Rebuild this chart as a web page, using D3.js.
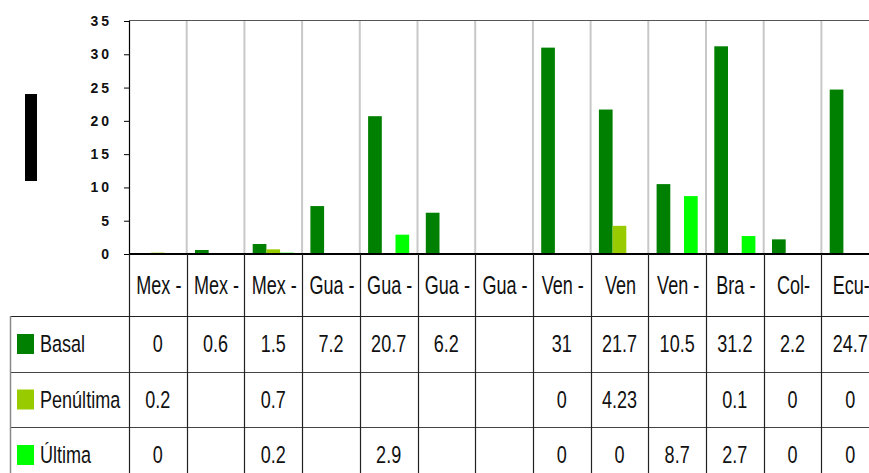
<!DOCTYPE html>
<html>
<head>
<meta charset="utf-8">
<script src="https://cdn.jsdelivr.net/npm/d3@7"></script>
<style>
  body { margin: 0; background: #fff; }
  svg { display: block; }
  .narrow { font-family: 'Liberation Sans', Arial, sans-serif; }
</style>
</head>
<body>
<div id="chart"></div>
<script>
const categories = ['Mex -', 'Mex -', 'Mex -', 'Gua -', 'Gua -', 'Gua -', 'Gua -', 'Ven -', 'Ven', 'Ven -', 'Bra -', 'Col-', 'Ecu-']
const seriesNames = ['Basal', 'Penúltima', 'Última']
const basal = [0, 0.6, 1.5, 7.2, 20.7, 6.2, null, 31, 21.7, 10.5, 31.2, 2.2, 24.7]
const penultima = [0.2, null, 0.7, null, null, null, null, 0, 4.23, null, 0.1, 0, 0]
const ultima = [0, null, 0.2, null, 2.9, null, null, 0, 0, 8.7, 2.7, 0, 0]
const yTicks = [0, 5, 10, 15, 20, 25, 30, 35]
const colors = ['#008000', '#99cc00', '#00ff00']

const W = 869
const H = 473
const plotLeft = 129
const colW = 57.7
const plotTop = 20
const zeroY = 254
const rowY = [254, 316, 372, 427, 483]
// Liberation Sans squeezed to the width of Arial Narrow
const squeeze = 0.82

const series = [basal, penultima, ultima]

const svg = d3.select('#chart').append('svg')
  .attr('width', W)
  .attr('height', H)

const x = d3.scaleBand()
  .domain(d3.range(categories.length))
  .range([plotLeft, plotLeft + colW * categories.length])

const xs = d3.scaleBand()
  .domain(seriesNames)
  .range([8.3, 49.4])

const y = d3.scaleLinear().domain([0, 35]).range([zeroY, 21])

// black block where the axis title would be
svg.append('rect')
  .attr('x', 25).attr('y', 94).attr('width', 12).attr('height', 87)
  .attr('fill', '#000')

// gray column separators in the plot
svg.append('g').selectAll('line')
  .data(d3.range(1, categories.length))
  .join('line')
  .attr('x1', d => x(d)).attr('x2', d => x(d))
  .attr('y1', plotTop).attr('y2', zeroY)
  .attr('stroke', '#c8c8c8').attr('stroke-width', 2)

// top border
svg.append('line')
  .attr('x1', plotLeft).attr('x2', W)
  .attr('y1', plotTop + 0.5).attr('y2', plotTop + 0.5)
  .attr('stroke', '#555').attr('stroke-width', 1.2)

// bars
series.forEach((vals, si) => {
  svg.append('g').selectAll('rect')
    .data(vals.map((v, i) => ({ v, i })).filter(d => d.v))
    .join('rect')
    .attr('x', d => x(d.i) + xs(seriesNames[si]))
    .attr('width', xs.bandwidth())
    .attr('y', d => y(d.v))
    .attr('height', d => zeroY - y(d.v))
    .attr('fill', colors[si])
})

// y axis
const yAxis = svg.append('g')
  .attr('transform', `translate(${plotLeft},0)`)
  .call(d3.axisLeft(y).tickValues(yTicks).tickSize(5).tickPadding(12))
yAxis.select('.domain').attr('stroke', '#000').attr('stroke-width', 1.2)
yAxis.selectAll('.tick line').attr('stroke', '#000')
yAxis.selectAll('.tick text')
  .attr('font-family', 'Liberation Sans, Arial, sans-serif')
  .attr('font-size', 14)
  .attr('font-weight', 'bold')
  .attr('letter-spacing', 3)
  .attr('fill', '#111')

// table
const table = svg.append('g')
const lineColor = '#222'

table.append('line')
  .attr('x1', plotLeft).attr('x2', W)
  .attr('y1', zeroY).attr('y2', zeroY)
  .attr('stroke', '#000').attr('stroke-width', 2)
rowY.slice(1, 4).forEach((ry, i) => {
  table.append('line')
    .attr('x1', 10).attr('x2', W)
    .attr('y1', ry + 0.5).attr('y2', ry + 0.5)
    .attr('stroke', i === 0 ? lineColor : '#444').attr('stroke-width', 1)
})
table.append('line')
  .attr('x1', 10.5).attr('x2', 10.5)
  .attr('y1', rowY[1]).attr('y2', H)
  .attr('stroke', '#888').attr('stroke-width', 1.5)

const edge = i => Math.round(plotLeft + colW * i) + 0.5
table.selectAll('.vline')
  .data(d3.range(0, categories.length + 1))
  .join('line')
  .attr('class', 'vline')
  .attr('x1', edge).attr('x2', edge)
  .attr('y1', zeroY).attr('y2', H)
  .attr('stroke', lineColor).attr('stroke-width', 1.2)

// header labels
table.selectAll('.cat')
  .data(categories)
  .join('text')
  .attr('class', 'cat narrow')
  .attr('transform', (d, i) => `translate(${x(i) + colW / 2 + 1},${(rowY[0] + rowY[1]) / 2 + 9}) scale(${squeeze},1.15)`)
  .attr('text-anchor', 'middle')
  .attr('font-size', 22)
  .attr('fill', '#111')
  .text(d => d)

// series rows
series.forEach((vals, si) => {
  const cy = (rowY[si + 1] + rowY[si + 2]) / 2
  table.append('rect')
    .attr('x', 17).attr('y', cy - 10)
    .attr('width', 17).attr('height', 20)
    .attr('fill', colors[si])
  table.append('text')
    .attr('class', 'narrow')
    .attr('transform', `translate(40,${cy + 8}) scale(${squeeze},1.05)`)
    .attr('font-size', 22)
    .attr('fill', '#111')
    .text(seriesNames[si])
  table.append('g').selectAll('text')
    .data(vals.map((v, i) => ({ v, i })).filter(d => d.v !== null))
    .join('text')
    .attr('class', 'narrow')
    .attr('transform', d => `translate(${x(d.i) + colW / 2},${cy + 8}) scale(${squeeze},1.05)`)
    .attr('text-anchor', 'middle')
    .attr('font-size', 22)
    .attr('fill', '#111')
    .text(d => String(d.v))
})
</script>
</body>
</html>
